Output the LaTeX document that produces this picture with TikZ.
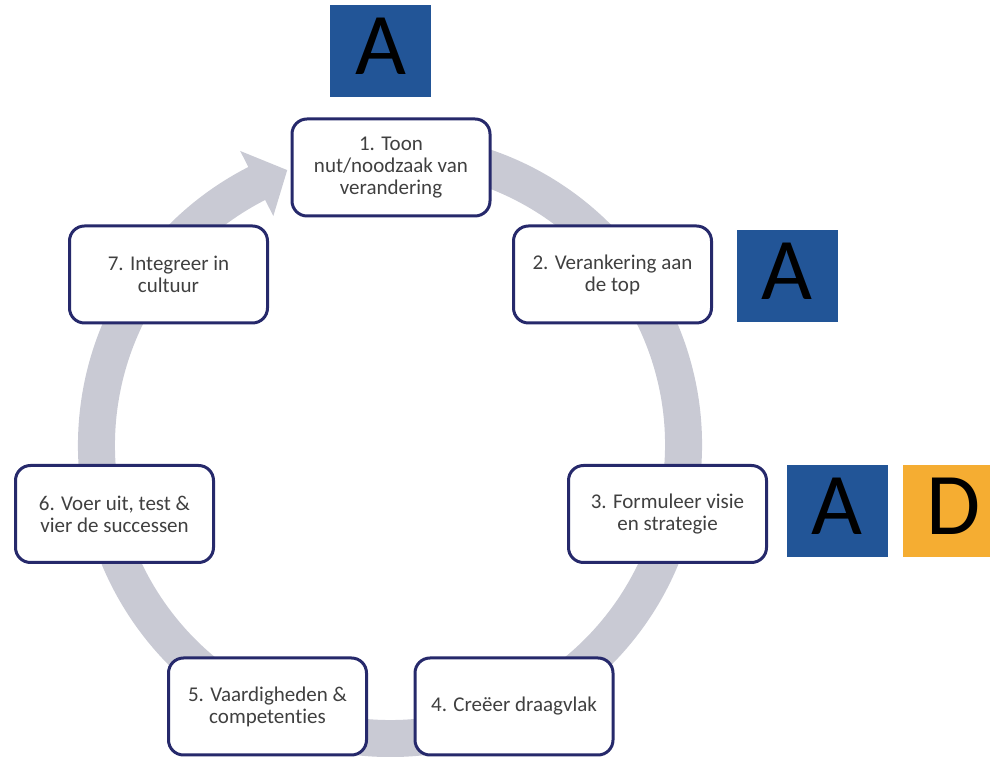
\documentclass[tikz,border=0pt]{standalone}
\usepackage{fontspec}
\setmainfont{Carlito}[Ligatures=NoCommon]
\definecolor{navy}{RGB}{38,41,107}
\definecolor{txt}{RGB}{64,64,64}
\definecolor{ringc}{RGB}{201,202,212}
\definecolor{tagblue}{RGB}{34,85,151}
\definecolor{tagorange}{RGB}{245,173,50}
\begin{document}
\begin{tikzpicture}[x=1pt,y=1pt,
  stage/.style={draw=navy, line width=3pt, fill=white, rounded corners=15pt,
    minimum width=198pt, minimum height=97pt, inner sep=2pt, align=center,
    font=\fontsize{21}{22}\selectfont, text=txt},
  tag/.style={minimum width=101pt, minimum height=92pt, inner sep=0pt,
    text depth=10pt, font=\fontsize{88}{88}\selectfont, text=black}]
\useasboundingbox (0,0) rectangle (990,757);
\clip (0,0) rectangle (990,757);

% circular arrow behind the stages
\begin{scope}[shift={(390,312)}]
  \draw[ringc, line width=37pt] (80:293.5pt) arc[start angle=80, end angle=-244, radius=293.5pt];
  \fill[ringc] (117:257pt) -- (117:330pt) -- (110.5:293.5pt) -- cycle;
\end{scope}

% stages
\node[stage] (s1) at (391,589.5) {1. Toon\\nut/noodzaak van\\verandering};
\node[stage] (s2) at (612.5,482.5) {2. Verankering aan\\de top};
\node[stage] (s3) at (667.5,243) {3. Formuleer visie\\en strategie};
\node[stage] (s4) at (514,50.5) {4. Creëer draagvlak};
\node[stage] (s5) at (267.5,50.5) {5. Vaardigheden \&\\competenties};
\node[stage] (s6) at (114.5,243) {6. Voer uit, test \&\\vier de successen};
\node[stage] (s7) at (168.5,482.5) {7. Integreer in\\cultuur};

% letter tags
\node[tag, fill=tagblue] (t1) at (380.5,706) {A};
\node[tag, fill=tagblue] (t2) at (787,480.5) {A};
\node[tag, fill=tagblue] (t3) at (837,246) {A};
\node[tag, fill=tagorange] (t4) at (953.5,246) {D};
\end{tikzpicture}
\end{document}
